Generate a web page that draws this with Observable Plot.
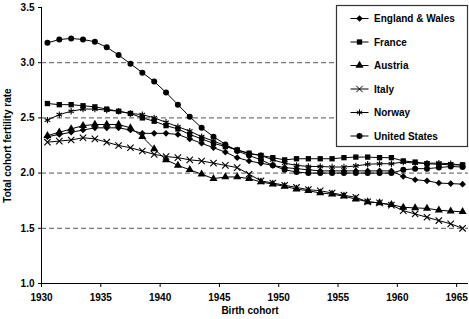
<!DOCTYPE html>
<html><head><meta charset="utf-8">
<script src="https://cdn.jsdelivr.net/npm/d3@7"></script>
<script src="https://cdn.jsdelivr.net/npm/@observablehq/plot@0.6"></script>
<style>body{margin:0;background:#fff}</style>
</head><body><div id="chart"></div>
<script>
const years = [1930,1931,1932,1933,1934,1935,1936,1937,1938,1939,1940,1941,1942,1943,1944,1945,1946,1947,1948,1949,1950,1951,1952,1953,1954,1955,1956,1957,1958,1959,1960,1961,1962,1963,1964,1965];
const englandWales = [2.33,2.35,2.37,2.39,2.41,2.41,2.41,2.39,2.36,2.36,2.36,2.35,2.31,2.27,2.23,2.19,2.14,2.11,2.09,2.07,2.05,2.04,2.03,2.02,2.02,2.02,2.02,2.02,2.02,2.02,1.97,1.94,1.93,1.91,1.905,1.90];
const france = [2.63,2.62,2.62,2.61,2.60,2.58,2.56,2.54,2.50,2.47,2.43,2.40,2.35,2.31,2.27,2.24,2.21,2.18,2.16,2.14,2.12,2.13,2.13,2.13,2.13,2.14,2.145,2.145,2.14,2.14,2.11,2.10,2.085,2.08,2.075,2.075];
const austria = [2.34,2.37,2.40,2.43,2.44,2.44,2.44,2.41,2.33,2.22,2.12,2.07,2.03,1.99,1.95,1.965,1.965,1.95,1.92,1.90,1.88,1.855,1.84,1.82,1.81,1.79,1.765,1.74,1.73,1.715,1.69,1.685,1.68,1.665,1.655,1.65];
const italy = [2.28,2.29,2.30,2.32,2.31,2.28,2.25,2.23,2.20,2.17,2.15,2.14,2.12,2.11,2.09,2.07,2.05,1.99,1.93,1.91,1.89,1.87,1.85,1.84,1.82,1.80,1.78,1.74,1.73,1.71,1.66,1.63,1.60,1.57,1.54,1.50];
const norway = [2.48,2.53,2.56,2.58,2.58,2.57,2.56,2.54,2.53,2.50,2.46,2.42,2.38,2.33,2.29,2.25,2.21,2.175,2.16,2.12,2.09,2.07,2.06,2.06,2.055,2.055,2.065,2.08,2.085,2.085,2.10,2.09,2.09,2.09,2.085,2.07];
const unitedStates = [3.18,3.21,3.22,3.21,3.19,3.14,3.07,2.99,2.91,2.83,2.73,2.62,2.51,2.41,2.33,2.26,2.20,2.16,2.12,2.07,2.03,2.01,2.00,2.00,2.00,2.00,2.00,2.00,2.00,2.00,2.03,2.04,2.04,2.05,2.06,2.055];

const seriesNames = ["England & Wales","France","Austria","Italy","Norway","United States"];
const seriesSymbols = ["diamond2","square","triangle","times","asterisk","circle"];
const seriesValues = [englandWales, france, austria, italy, norway, unitedStates];
const yTicks = [1.0,1.5,2.0,2.5,3.0,3.5];
const yGrid = [1.5,2.0,2.5,3.0];
const xTicks = [1930,1935,1940,1945,1950,1955,1960,1965];
const xTitle = "Birth cohort";
const yTitle = "Total cohort fertility rate";

const rows = seriesNames.flatMap((name, i) => years.map((year, j) => ({name, year, value: seriesValues[i][j]})));
const isOpen = s => s === "times" || s === "asterisk";
const R = 3;

const seriesMarks = seriesNames.flatMap((name, i) => {
  const data = rows.filter(d => d.name === name);
  const sym = seriesSymbols[i];
  return [
    Plot.line(data, {x: d => d.year + 0.5, y: "value", stroke: "#000", strokeWidth: 1}),
    Plot.dot(data, {x: d => d.year + 0.5, y: "value", symbol: sym, r: R,
      fill: isOpen(sym) ? "none" : "#000", stroke: isOpen(sym) ? "#000" : "none", strokeWidth: 1.1})
  ];
});

const chart = Plot.plot({
  width: 469, height: 319,
  marginLeft: 41, marginRight: 1, marginTop: 7, marginBottom: 36,
  x: {domain: [1930, 1966]},
  y: {domain: [1, 3.5]},
  style: {fontFamily: "'Liberation Sans', Arial, sans-serif", fontSize: "10px", fontWeight: "bold", background: "#fff", color: "#000"},
  marks: [
    Plot.ruleY(yGrid, {stroke: "#555", strokeDasharray: "5,3", strokeWidth: 1}),
    Plot.ruleX([1930], {stroke: "#000", strokeWidth: 1}),
    Plot.ruleY([1], {stroke: "#000", strokeWidth: 1}),
    Plot.axisY({ticks: yTicks, tickFormat: d => d.toFixed(1), tickSize: 3, tickPadding: 4, label: null}),
    Plot.axisX({ticks: xTicks, tickFormat: d => String(d), tickSize: 4, tickPadding: 6, label: null}),
    ...seriesMarks,
    Plot.text([xTitle], {frameAnchor: "bottom", dy: 30, dx: -5, text: d => d, fontWeight: "bold", fontSize: 10}),
    Plot.text([yTitle], {frameAnchor: "left", textAnchor: "middle", dx: -34, rotate: -90, text: d => d, fontWeight: "bold", fontSize: 10})
  ]
});
document.getElementById("chart").appendChild(chart);

// legend
const svg = d3.select(chart);
const lg = svg.append("g").attr("text-anchor", "start");
lg.append("rect").attr("x", 336.5).attr("y", 5.5).attr("width", 131).attr("height", 141)
  .attr("fill", "#fff").attr("stroke", "#333").attr("stroke-width", 1.2);
const symMap = {diamond2: d3.symbolDiamond2, square: d3.symbolSquare, triangle: d3.symbolTriangle, times: d3.symbolTimes, asterisk: d3.symbolAsterisk, circle: d3.symbolCircle};
seriesNames.forEach((name, i) => {
  const cy = 18.5 + i * 23.5;
  const sym = seriesSymbols[i];
  lg.append("line").attr("x1", 350.5).attr("x2", 368.5).attr("y1", cy).attr("y2", cy).attr("stroke", "#000");
  lg.append("path").attr("transform", `translate(359.5,${cy})`)
    .attr("d", d3.symbol(symMap[sym], R * R * Math.PI)())
    .attr("fill", isOpen(sym) ? "none" : "#000").attr("stroke", isOpen(sym) ? "#000" : "none");
  lg.append("text").attr("x", 374).attr("y", cy).attr("dy", "0.35em").attr("text-anchor", "start")
    .attr("font-size", 10).attr("font-weight", "bold").attr("fill", "#000").text(name);
});
</script>
</body></html>
